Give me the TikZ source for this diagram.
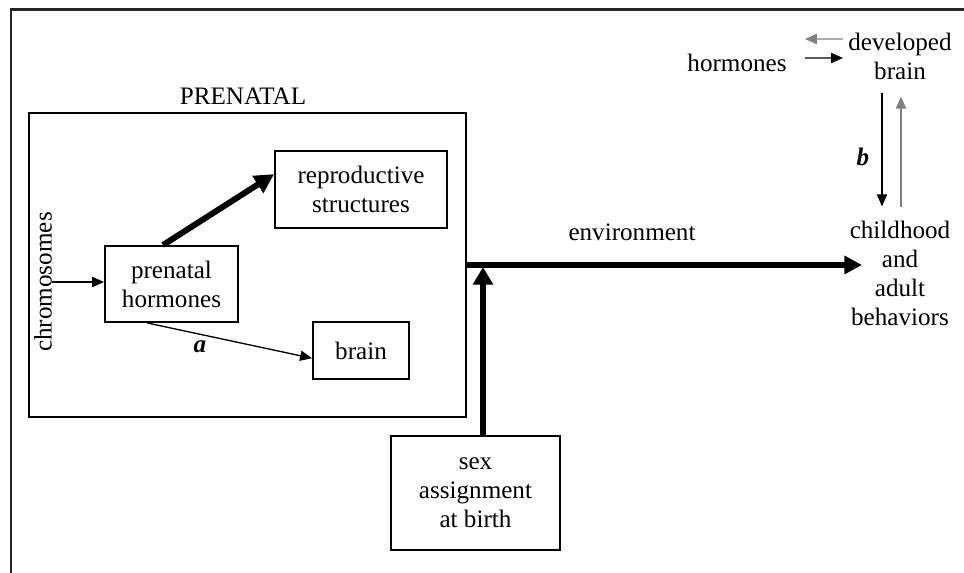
\documentclass[tikz,border=0pt]{standalone}
\usepackage{fontspec}
\setmainfont{Liberation Serif}
\usetikzlibrary{arrows.meta, positioning}

\begin{document}
\begin{tikzpicture}[
  x=0.02cm, y=-0.02cm,
  font=\fontsize{14.3}{16.5}\selectfont,
  box/.style={draw, line width=1.1pt, align=center, inner sep=0pt},
  lbl/.style={align=center, inner sep=0pt},
  letter/.style={inner sep=0pt, font=\fontsize{14.3}{16.5}\selectfont\bfseries\itshape},
  thinarrow/.style={-{Triangle[length=6.8pt, width=5.8pt]}, line width=0.75pt},
  grayarrow/.style={thinarrow, black!50},
  bigarrow/.style={-{Triangle[length=10pt, width=10pt]}, line width=3.1pt},
]
\useasboundingbox (0,0) rectangle (964,573);

% Frame
\draw[line width=1.7pt, black!85] (11,573) -- (11,10) -- (964,10);

% Prenatal stage
\node[box, minimum width=8.74cm, minimum height=6.08cm] (prenatal) at (247.5,265) {};
\node[lbl, above=0.14cm of prenatal, xshift=-0.09cm] (prenatallbl) {PRENATAL};
\node[lbl, rotate=90] (chrom) at (43,282) {chromosomes};
\node[box, minimum width=2.66cm, minimum height=1.52cm] (horm) at (171.5,284) {prenatal\\hormones};
\node[box, minimum width=3.44cm, minimum height=1.54cm] (repro) at (361,189.5) {reproductive\\structures};
\node[box, minimum width=1.92cm, minimum height=1.14cm] (brain) at (361,350.5) {brain};
\node[letter] (alabel) at (200,347) {a};

% Birth
\node[box, minimum width=3.38cm, minimum height=2.28cm] (sex) at (475.5,493) {sex\\assignment\\at birth};
\coordinate (join) at (483,267);
\coordinate (envtip) at (862,265);
\node[lbl] (env) at (632,232) {environment};

% Later life
\node[lbl] (child) at (900,273) {childhood\\and\\adult\\behaviors};
\node[lbl, inner xsep=0.36cm] (hormadult) at (737,63) {hormones};
\node[lbl, inner xsep=0.1cm] (devbrain) at (900,56) {developed\\brain};
\node[letter] (blabel) at (863,157) {b};

% Arrows
\draw[thinarrow] (chrom.base) -- (chrom.base -| horm.west);
\draw[-{Triangle[length=11pt, width=11pt]}, line width=3.4pt] ([xshift=-0.17cm]horm.north) -- (repro.170);
\draw[thinarrow] (horm.238) -- (brain.189);
\draw[bigarrow] (prenatal.east) -- (envtip);
\draw[bigarrow, -{Triangle[length=10pt, width=11pt]}, line width=3.2pt] (sex.north -| join) -- (join);
\draw[thinarrow] ([yshift=0.1cm]hormadult.east) -- ([yshift=-0.04cm]devbrain.west);
\draw[grayarrow] ([yshift=0.34cm]devbrain.west) -- ([yshift=0.48cm]hormadult.east);
\draw[thinarrow] ([xshift=-0.36cm, yshift=-0.26cm]devbrain.south) -- ([xshift=-0.36cm, yshift=0.28cm]child.north);
\draw[grayarrow] ([xshift=0.02cm, yshift=0.26cm]child.north) -- ([xshift=0.02cm, yshift=-0.34cm]devbrain.south);

\end{tikzpicture}
\end{document}
